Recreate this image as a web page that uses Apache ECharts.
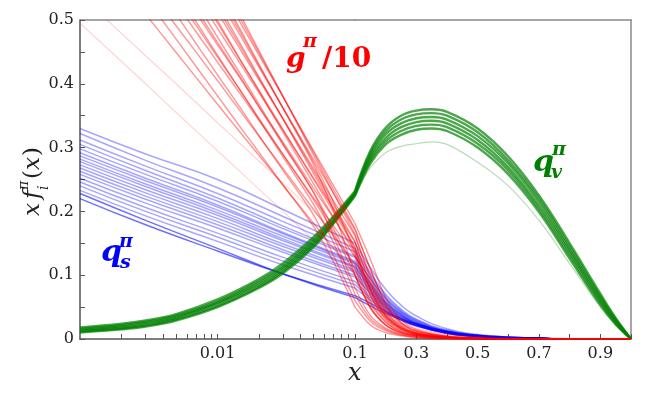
<!DOCTYPE html>
<html>
<head>
<meta charset="utf-8">
<script src="https://cdn.jsdelivr.net/npm/echarts@6/dist/echarts.min.js"></script>
<style>
  html, body { margin: 0; padding: 0; background: #fff; }
  #chart { width: 664px; height: 399px; }
</style>
</head>
<body>
<div id="chart"></div>
<script>
// x grid: log part (0.001..0.1) and linear part (0.1..1)
var logTicks = [0.002, 0.003, 0.004, 0.005, 0.006, 0.007, 0.008, 0.009, 0.01,
                0.02, 0.03, 0.04, 0.05, 0.06, 0.07, 0.08, 0.09];
var logLabels = [0.01, 0.1];
var linLabels = [0.3, 0.5, 0.7, 0.9];

// g/10 replicas
var redLogX = [0.001, 0.003, 0.005, 0.01, 0.015, 0.02, 0.03, 0.05, 0.07, 0.1];
var redLinX = [0.1, 0.15, 0.2, 0.25, 0.3, 0.4, 0.5, 0.6, 0.8, 1.0];
var redLog = [
  [0.636, 0.509, 0.449, 0.368, 0.321, 0.288, 0.241, 0.181, 0.142, 0.101],
  [0.675, 0.535, 0.470, 0.381, 0.329, 0.293, 0.241, 0.176, 0.120, 0.050],
  [0.693, 0.555, 0.491, 0.405, 0.354, 0.318, 0.267, 0.203, 0.161, 0.117],
  [0.729, 0.579, 0.509, 0.414, 0.359, 0.319, 0.264, 0.194, 0.130, 0.060],
  [0.739, 0.594, 0.526, 0.434, 0.381, 0.343, 0.289, 0.221, 0.177, 0.129],
  [0.765, 0.610, 0.538, 0.442, 0.386, 0.346, 0.289, 0.218, 0.166, 0.100],
  [0.780, 0.620, 0.546, 0.445, 0.386, 0.344, 0.285, 0.211, 0.150, 0.070],
  [0.783, 0.630, 0.558, 0.461, 0.405, 0.364, 0.308, 0.236, 0.189, 0.139],
  [0.800, 0.640, 0.566, 0.465, 0.407, 0.364, 0.304, 0.230, 0.172, 0.110],
  [0.823, 0.656, 0.579, 0.473, 0.412, 0.368, 0.306, 0.229, 0.160, 0.080],
  [0.822, 0.662, 0.587, 0.487, 0.428, 0.386, 0.327, 0.252, 0.204, 0.152],
  [0.845, 0.678, 0.600, 0.495, 0.433, 0.390, 0.328, 0.250, 0.199, 0.143],
  [0.864, 0.689, 0.608, 0.499, 0.434, 0.389, 0.324, 0.243, 0.190, 0.133],
  [0.862, 0.695, 0.617, 0.512, 0.450, 0.406, 0.345, 0.267, 0.216, 0.162],
  [0.885, 0.711, 0.629, 0.519, 0.455, 0.409, 0.345, 0.263, 0.210, 0.153],
  [0.908, 0.726, 0.641, 0.526, 0.459, 0.411, 0.344, 0.259, 0.204, 0.144],
  [0.901, 0.727, 0.646, 0.536, 0.472, 0.426, 0.362, 0.281, 0.228, 0.171],
  [0.924, 0.742, 0.658, 0.543, 0.477, 0.429, 0.362, 0.277, 0.214, 0.135],
  [0.946, 0.757, 0.669, 0.550, 0.481, 0.431, 0.361, 0.273, 0.200, 0.100],
  [0.937, 0.757, 0.673, 0.559, 0.492, 0.445, 0.379, 0.295, 0.240, 0.181],
  [0.963, 0.775, 0.687, 0.568, 0.498, 0.449, 0.380, 0.292, 0.234, 0.173],
  [0.988, 0.792, 0.700, 0.576, 0.504, 0.452, 0.380, 0.288, 0.228, 0.164],
  [0.495, 0.400, 0.355, 0.295, 0.260, 0.235, 0.200, 0.155, 0.125, 0.090],
  [0.539, 0.444, 0.400, 0.339, 0.304, 0.279, 0.244, 0.200, 0.170, 0.130]
];
var redLin = [
  [0.101, 0.05, 0.022, 0.010, 0.005, 0.0015, 0, 0, 0, 0],
  [0.05, 0.022, 0.01, 0.005, 0.002, 0, 0, 0, 0, 0],
  [0.117, 0.06, 0.027, 0.012, 0.006, 0.002, 0.001, 0, 0, 0],
  [0.06, 0.028, 0.013, 0.006, 0.003, 0.001, 0, 0, 0, 0],
  [0.129, 0.068, 0.03, 0.014, 0.007, 0.002, 0.001, 0, 0, 0],
  [0.10, 0.05, 0.022, 0.01, 0.005, 0.0015, 0.0005, 0, 0, 0],
  [0.07, 0.032, 0.015, 0.007, 0.003, 0.001, 0, 0, 0, 0],
  [0.139, 0.075, 0.034, 0.016, 0.008, 0.002, 0.001, 0, 0, 0],
  [0.11, 0.056, 0.026, 0.012, 0.006, 0.0015, 0.0005, 0, 0, 0],
  [0.08, 0.037, 0.017, 0.008, 0.004, 0.001, 0, 0, 0, 0],
  [0.152, 0.085, 0.04, 0.018, 0.009, 0.003, 0.001, 0, 0, 0],
  [0.143, 0.078, 0.036, 0.017, 0.008, 0.0025, 0.001, 0, 0, 0],
  [0.133, 0.07, 0.032, 0.015, 0.007, 0.002, 0.001, 0, 0, 0],
  [0.162, 0.10, 0.05, 0.024, 0.012, 0.004, 0.001, 0, 0, 0],
  [0.153, 0.089, 0.043, 0.02, 0.01, 0.003, 0.001, 0, 0, 0],
  [0.144, 0.078, 0.036, 0.017, 0.008, 0.002, 0.001, 0, 0, 0],
  [0.171, 0.11, 0.055, 0.026, 0.013, 0.004, 0.001, 0, 0, 0],
  [0.135, 0.079, 0.038, 0.018, 0.009, 0.003, 0.0005, 0, 0, 0],
  [0.10, 0.048, 0.022, 0.01, 0.005, 0.0015, 0, 0, 0, 0],
  [0.181, 0.125, 0.065, 0.03, 0.015, 0.005, 0.002, 0, 0, 0],
  [0.173, 0.11, 0.055, 0.026, 0.013, 0.004, 0.0015, 0, 0, 0],
  [0.164, 0.095, 0.045, 0.021, 0.01, 0.003, 0.001, 0, 0, 0],
  [0.09, 0.055, 0.035, 0.024, 0.016, 0.008, 0.004, 0.002, 0, 0],
  [0.13, 0.085, 0.05, 0.03, 0.018, 0.007, 0.003, 0.001, 0, 0]
];
var redFaint = [22, 23];

// sea quark replicas
var blueLogX = [0.001, 0.003, 0.01, 0.03, 0.1];
var blueLinX = [0.1, 0.15, 0.2, 0.25, 0.3, 0.4, 0.5, 0.6, 0.7, 0.8, 1.0];
var blueLog = [
  [0.33, 0.29, 0.25, 0.203, 0.15],
  [0.322, 0.28, 0.237, 0.192, 0.142],
  [0.312, 0.271, 0.228, 0.184, 0.137],
  [0.305, 0.264, 0.221, 0.177, 0.13],
  [0.298, 0.258, 0.216, 0.173, 0.128],
  [0.292, 0.252, 0.21, 0.167, 0.122],
  [0.287, 0.248, 0.207, 0.165, 0.12],
  [0.282, 0.243, 0.202, 0.161, 0.118],
  [0.278, 0.239, 0.198, 0.157, 0.114],
  [0.273, 0.234, 0.194, 0.154, 0.112],
  [0.268, 0.229, 0.189, 0.149, 0.108],
  [0.263, 0.224, 0.184, 0.145, 0.105],
  [0.258, 0.219, 0.179, 0.14, 0.10],
  [0.252, 0.213, 0.174, 0.136, 0.097],
  [0.246, 0.206, 0.166, 0.128, 0.09],
  [0.24, 0.2, 0.16, 0.122, 0.085],
  [0.233, 0.193, 0.153, 0.116, 0.08],
  [0.22, 0.179, 0.138, 0.102, 0.068],
  [0.228, 0.186, 0.142, 0.102, 0.065]
];
var blueLin = [
  [0.15, 0.112, 0.078, 0.053, 0.036, 0.016, 0.007, 0.003, 0.0015, 0.0005, 0],
  [0.142, 0.104, 0.07, 0.047, 0.031, 0.014, 0.006, 0.003, 0.001, 0, 0],
  [0.137, 0.1, 0.067, 0.045, 0.03, 0.013, 0.006, 0.003, 0.001, 0, 0],
  [0.13, 0.095, 0.064, 0.043, 0.028, 0.012, 0.005, 0.002, 0.001, 0, 0],
  [0.128, 0.094, 0.063, 0.042, 0.028, 0.012, 0.005, 0.002, 0.001, 0, 0],
  [0.122, 0.089, 0.06, 0.04, 0.026, 0.011, 0.005, 0.002, 0.001, 0, 0],
  [0.12, 0.087, 0.058, 0.039, 0.025, 0.011, 0.005, 0.002, 0.001, 0, 0],
  [0.118, 0.085, 0.057, 0.038, 0.025, 0.01, 0.004, 0.002, 0.001, 0, 0],
  [0.114, 0.082, 0.055, 0.037, 0.024, 0.01, 0.004, 0.002, 0.001, 0, 0],
  [0.112, 0.081, 0.054, 0.036, 0.024, 0.01, 0.004, 0.002, 0.001, 0, 0],
  [0.108, 0.078, 0.052, 0.035, 0.023, 0.01, 0.004, 0.002, 0.001, 0, 0],
  [0.105, 0.076, 0.051, 0.034, 0.022, 0.009, 0.004, 0.002, 0.001, 0, 0],
  [0.10, 0.073, 0.049, 0.033, 0.022, 0.009, 0.004, 0.002, 0.001, 0, 0],
  [0.097, 0.071, 0.048, 0.032, 0.021, 0.009, 0.004, 0.002, 0.001, 0, 0],
  [0.09, 0.067, 0.046, 0.031, 0.021, 0.009, 0.004, 0.002, 0.001, 0, 0],
  [0.085, 0.064, 0.044, 0.03, 0.02, 0.009, 0.004, 0.002, 0.001, 0, 0],
  [0.08, 0.061, 0.043, 0.03, 0.021, 0.01, 0.005, 0.002, 0.001, 0, 0],
  [0.068, 0.056, 0.043, 0.032, 0.024, 0.012, 0.006, 0.003, 0.001, 0, 0],
  [0.065, 0.052, 0.04, 0.03, 0.022, 0.011, 0.005, 0.002, 0.001, 0, 0]
];
var blueStrong = [17, 18];

// valence replicas
var greenLogX = [0.001, 0.002, 0.003, 0.005, 0.01, 0.02, 0.03, 0.05, 0.07, 0.1];
var greenLinX = [0.1, 0.15, 0.2, 0.25, 0.3, 0.35, 0.4, 0.5, 0.6, 0.7, 0.8, 0.9, 0.95, 1.0];
var greenLog = [
  [0.018, 0.024, 0.029, 0.039, 0.062, 0.094, 0.119, 0.160, 0.193, 0.232],
  [0.016, 0.022, 0.027, 0.037, 0.059, 0.091, 0.115, 0.156, 0.190, 0.230],
  [0.0145, 0.020, 0.025, 0.035, 0.057, 0.088, 0.112, 0.153, 0.187, 0.229],
  [0.013, 0.018, 0.023, 0.033, 0.055, 0.085, 0.109, 0.150, 0.185, 0.227],
  [0.0115, 0.0165, 0.021, 0.031, 0.052, 0.082, 0.106, 0.147, 0.183, 0.226],
  [0.010, 0.015, 0.0195, 0.029, 0.050, 0.080, 0.103, 0.144, 0.181, 0.224],
  [0.011, 0.016, 0.0205, 0.030, 0.051, 0.081, 0.105, 0.146, 0.182, 0.225]
];
var greenLin = [
  [0.232, 0.295, 0.331, 0.35, 0.358, 0.36, 0.356, 0.33, 0.286, 0.225, 0.15, 0.071, 0.033, 0],
  [0.230, 0.291, 0.326, 0.344, 0.352, 0.354, 0.35, 0.324, 0.280, 0.220, 0.145, 0.067, 0.031, 0],
  [0.229, 0.287, 0.321, 0.338, 0.346, 0.348, 0.344, 0.318, 0.275, 0.215, 0.140, 0.064, 0.029, 0],
  [0.227, 0.283, 0.315, 0.332, 0.340, 0.342, 0.338, 0.312, 0.269, 0.209, 0.136, 0.060, 0.027, 0],
  [0.226, 0.279, 0.31, 0.326, 0.334, 0.336, 0.332, 0.306, 0.264, 0.204, 0.131, 0.057, 0.025, 0],
  [0.224, 0.275, 0.305, 0.32, 0.328, 0.33, 0.326, 0.30, 0.258, 0.199, 0.126, 0.053, 0.023, 0],
  [0.225, 0.268, 0.292, 0.302, 0.306, 0.309, 0.305, 0.277, 0.240, 0.186, 0.118, 0.050, 0.022, 0]
];
var greenFaint = [6];

var serif = "'DejaVu Serif', serif";
var math = "'DejaVu Serif', serif";

function lineSeries(xs, curves, opts, gridIdx) {
  return curves.map(function (c, k) {
    var a = opts.alpha;
    var w = opts.width;
    if (opts.faint && opts.faint.indexOf(k) >= 0) { a = opts.alpha * 0.4; w = 1.2; }
    if (opts.strong && opts.strong.indexOf(k) >= 0) a = Math.min(1, opts.alpha * 1.6);
    return {
      type: 'line',
      xAxisIndex: gridIdx === 0 ? 0 : 2,
      yAxisIndex: gridIdx,
      data: xs.map(function (x, i) { return [x, c[i]]; }),
      showSymbol: false,
      smooth: opts.smooth,
      silent: true,
      lineStyle: { color: opts.color, width: w, opacity: a }
    };
  });
}

var blueOpt = { color: '#0000ff', alpha: 0.35, width: 1.5, strong: blueStrong, smooth: 0.5 };
var greenOpt = { color: '#008000', alpha: 0.7, width: 2.4, faint: greenFaint, smooth: 0.4 };
var redOpt = { color: '#ff0000', alpha: 0.42, width: 1.4, faint: redFaint, smooth: 0.3 };

var series = [].concat(
  lineSeries(blueLogX, blueLog, blueOpt, 0),
  lineSeries(blueLinX, blueLin, blueOpt, 1),
  lineSeries(greenLogX, greenLog, greenOpt, 0),
  lineSeries(greenLinX, greenLin, greenOpt, 1),
  lineSeries(redLogX, redLog, redOpt, 0),
  lineSeries(redLinX, redLin, redOpt, 1)
);

var tickLabel = { fontFamily: serif, fontSize: 16, color: '#222', margin: 7 };

var chart = echarts.init(document.getElementById('chart'));
chart.setOption({
  animation: false,
  backgroundColor: '#fff',
  grid: [
    { left: 80, top: 20, width: 275, height: 319 },
    { left: 355, top: 20, width: 276, height: 319 }
  ],
  xAxis: [
    {
      type: 'log', gridIndex: 0, logBase: 10, min: 0.001, max: 0.1,
      axisLine: { lineStyle: { color: '#555', width: 1.5 } },
      axisTick: { inside: true, length: 5, customValues: logTicks, lineStyle: { color: '#555' } },
      axisLabel: Object.assign({ customValues: logLabels, formatter: function (v) { return String(v); } }, tickLabel),
      splitLine: { show: false }
    },
    {
      type: 'log', gridIndex: 0, logBase: 10, min: 0.001, max: 0.1, position: 'top',
      axisLine: { lineStyle: { color: '#888', width: 1.5 } },
      axisTick: { show: false }, axisLabel: { show: false }, splitLine: { show: false }
    },
    {
      type: 'value', gridIndex: 1, min: 0.1, max: 1.0, interval: 0.1,
      axisLine: { lineStyle: { color: '#555', width: 1.5 } },
      axisTick: { inside: true, length: 5, lineStyle: { color: '#555' } },
      axisLabel: Object.assign({ customValues: linLabels, formatter: function (v) { return v.toFixed(1); } }, tickLabel),
      splitLine: { show: false }
    },
    {
      type: 'value', gridIndex: 1, min: 0.1, max: 1.0, position: 'top',
      axisLine: { lineStyle: { color: '#888', width: 1.5 } },
      axisTick: { show: false }, axisLabel: { show: false }, splitLine: { show: false }
    }
  ],
  yAxis: [
    {
      type: 'value', gridIndex: 0, min: 0, max: 0.5, interval: 0.05,
      axisLine: { show: true, lineStyle: { color: '#555', width: 1.5 } },
      axisTick: { inside: true, length: 5, lineStyle: { color: '#555' } },
      axisLabel: Object.assign({
        formatter: function (v) {
          var k = Math.round(v * 20);
          if (k % 2) return '';
          return k === 0 ? '0' : (k / 20).toFixed(1);
        }
      }, tickLabel, { margin: 6 }),
      splitLine: { show: false }
    },
    {
      type: 'value', gridIndex: 1, min: 0, max: 0.5, position: 'right',
      axisLine: { show: true, lineStyle: { color: '#888', width: 1.5 } },
      axisTick: { show: false }, axisLabel: { show: false }, splitLine: { show: false }
    }
  ],
  graphic: [
    // axis titles
    { type: 'text', left: 348, top: 362, style: { text: 'x', font: 'italic 24px ' + serif, fill: '#222' } },
    {
      type: 'group', x: 44, y: 216, rotation: Math.PI / 2,
      children: [
        { type: 'text', x: 0, y: -22, style: { text: 'x', font: 'italic 23px ' + serif, fill: '#222' } },
        { type: 'text', x: 17, y: -22, style: { text: 'f', font: 'italic 23px ' + serif, fill: '#222' } },
        { type: 'text', x: 26, y: -27, style: { text: 'π', font: 'italic 14px ' + serif, fill: '#222' } },
        { type: 'text', x: 26, y: -7, style: { text: 'i', font: 'italic 14px ' + serif, fill: '#222' } },
        { type: 'text', x: 37, y: -22, style: { text: '(', font: '23px ' + serif, fill: '#222' } },
        { type: 'text', x: 46, y: -22, style: { text: 'x', font: 'italic 23px ' + serif, fill: '#222' } },
        { type: 'text', x: 60, y: -22, style: { text: ')', font: '23px ' + serif, fill: '#222' } }
      ]
    },
    // g/10
    { type: 'text', x: 286, y: 46, style: { text: 'g', font: 'bold italic 28px ' + math, fill: '#ff0000' } },
    { type: 'text', x: 303, y: 33, style: { text: 'π', font: 'bold italic 19px ' + math, fill: '#ff0000' } },
    { type: 'text', x: 322, y: 46, style: { text: '/10', font: 'bold 28px ' + math, fill: '#ff0000' } },
    // q_v
    { type: 'text', x: 533, y: 148, style: { text: 'q', font: 'bold italic 30px ' + math, fill: '#008000' } },
    { type: 'text', x: 552, y: 141, style: { text: 'π', font: 'bold italic 19px ' + math, fill: '#008000' } },
    { type: 'text', x: 551, y: 164, style: { text: 'v', font: 'bold italic 19px ' + math, fill: '#008000' } },
    // q_s
    { type: 'text', x: 101, y: 238, style: { text: 'q', font: 'bold italic 30px ' + math, fill: '#0000ff' } },
    { type: 'text', x: 119, y: 233, style: { text: 'π', font: 'bold italic 19px ' + math, fill: '#0000ff' } },
    { type: 'text', x: 120, y: 254, style: { text: 's', font: 'bold italic 19px ' + math, fill: '#0000ff' } }
  ],
  series: series
});
</script>
</body>
</html>
